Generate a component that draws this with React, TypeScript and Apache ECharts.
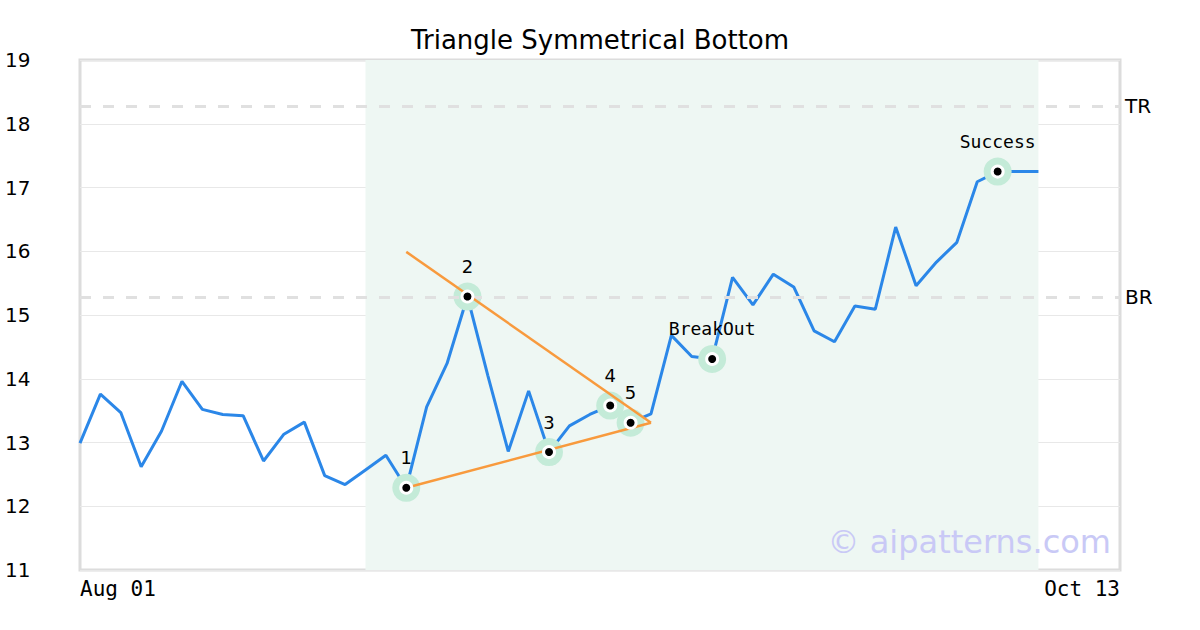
import React, { useEffect, useRef } from "react";
import * as echarts from "echarts";

const title = "Triangle Symmetrical Bottom";
const xTickLabels = ["Aug 01", "Oct 13"];
const xMax = 51;
const yTicks = [11, 12, 13, 14, 15, 16, 17, 18, 19];

const prices = [
  12.99, 13.76, 13.47, 12.62, 13.18, 13.96, 13.52, 13.44, 13.42, 12.71,
  13.13, 13.32, 12.48, 12.34, 12.57, 12.8, 12.29, 13.56, 14.24, 15.29,
  14.05, 12.86, 13.81, 12.85, 13.26, 13.44, 13.58, 13.31, 13.45, 14.68,
  14.35, 14.31, 15.59, 15.16, 15.64, 15.44, 14.75, 14.58, 15.14, 15.09,
  16.38, 15.46, 15.83, 16.14, 17.09, 17.25, 17.25, 17.25,
];

const pivotIndex = [16, 19, 23, 26, 27, 31, 45];
const pivotLabels = ["1", "2", "3", "4", "5", "BreakOut", "Success"];

const upperTrend = [
  [16, 15.99],
  [28, 13.31],
];
const lowerTrend = [
  [16, 12.29],
  [28, 13.31],
];

const levelNames = ["TR", "BR"];
const levelValues = [18.28, 15.28];

const zoneStart = 14;
const zoneEnd = 47;

const watermark = "© aipatterns.com";

export default function App() {
  const ref = useRef<HTMLDivElement>(null);

  useEffect(() => {
    if (!ref.current) return;
    const chart = echarts.init(ref.current, null, { renderer: "svg" });
    const lineData = prices.map((v, i) => [i, v]);
    const pivotData = pivotIndex.map((idx, k) => ({
      value: [idx, prices[idx]],
      label: {
        formatter: pivotLabels[k],
        fontFamily: pivotLabels[k].length > 1 ? "DejaVu Sans Mono" : "DejaVu Sans",
      },
    }));

    chart.setOption({
      animation: false,
      backgroundColor: "#ffffff",
      title: {
        text: title,
        left: "center",
        top: 22,
        textStyle: {
          fontFamily: "DejaVu Sans",
          fontSize: 26,
          fontWeight: "normal",
          color: "#000000",
        },
      },
      grid: {
        left: 80,
        right: 80,
        top: 60,
        bottom: 60,
        show: true,
        borderColor: "#dcdcdc",
        borderWidth: 3,
        backgroundColor: "transparent",
      },
      xAxis: {
        type: "value",
        min: 0,
        max: xMax,
        interval: xMax,
        axisLine: { show: false },
        axisTick: { show: false },
        splitLine: { show: false },
        axisLabel: {
          fontFamily: "DejaVu Sans Mono",
          fontSize: 21,
          color: "#000000",
          margin: 8,
          alignMinLabel: "left",
          alignMaxLabel: "right",
          formatter: (v: number) => (v === 0 ? xTickLabels[0] : v === xMax ? xTickLabels[1] : ""),
        },
      },
      yAxis: {
        type: "value",
        min: yTicks[0],
        max: yTicks[yTicks.length - 1],
        interval: 1,
        axisLine: { show: false },
        axisTick: { show: false },
        splitLine: { show: true, lineStyle: { color: "#e8e8e8", width: 1 } },
        axisLabel: {
          fontFamily: "DejaVu Sans",
          fontSize: 20,
          color: "#000000",
          align: "left",
          margin: 75,
        },
      },
      series: [
        {
          type: "line",
          data: lineData,
          showSymbol: false,
          symbol: "none",
          lineStyle: { color: "#2b87e8", width: 3 },
          z: 3,
          markArea: {
            silent: true,
            itemStyle: { color: "#eef7f3" },
            data: [[{ xAxis: zoneStart }, { xAxis: zoneEnd }]],
          },
          markLine: {
            silent: true,
            symbol: "none",
            lineStyle: { color: "#e0e0e0", width: 3, type: [11, 12] },
            label: {
              show: true,
              position: "end",
              distance: 5,
              fontFamily: "DejaVu Sans",
              fontSize: 20,
              color: "#000000",
              formatter: (p: any) => p.name,
            },
            data: levelValues.map((v, i) => ({ yAxis: v, name: levelNames[i] })),
          },
        },
        {
          type: "scatter",
          data: pivotIndex.map((idx) => [idx, prices[idx]]),
          symbol: "circle",
          symbolSize: 28,
          itemStyle: { color: "#c4ebd8", opacity: 1 },
          z: 4,
          silent: true,
        },
        {
          type: "line",
          data: upperTrend,
          symbol: "none",
          lineStyle: { color: "#f89a3d", width: 2.5 },
          z: 5,
        },
        {
          type: "line",
          data: lowerTrend,
          symbol: "none",
          lineStyle: { color: "#f89a3d", width: 2.5 },
          z: 5,
        },
        {
          type: "scatter",
          data: pivotData,
          symbol: "circle",
          symbolSize: 11,
          itemStyle: { color: "#000000", borderColor: "#ffffff", borderWidth: 3, opacity: 1 },
          z: 6,
          label: {
            show: true,
            position: "top",
            distance: 14,
            fontSize: 18,
            color: "#000000",
          },
        },
      ],
      graphic: [
        {
          type: "text",
          right: 89,
          top: 526,
          style: {
            text: watermark,
            fontFamily: "DejaVu Sans",
            fontSize: 32,
            fill: "#c9c9f6",
          },
          z: 10,
        },
      ],
    });

    return () => chart.dispose();
  }, []);

  return <div ref={ref} style={{ width: 1200, height: 630, position: "absolute", left: 0, top: 0 }} />;
}
